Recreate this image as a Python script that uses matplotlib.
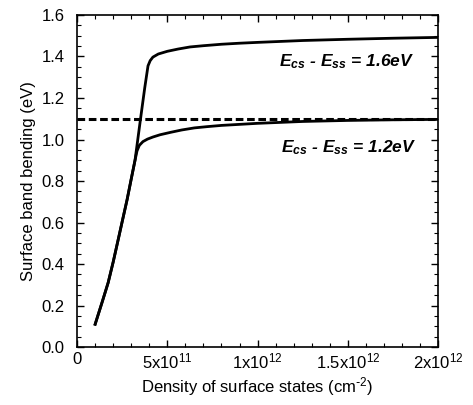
import matplotlib
matplotlib.use('Agg')
import matplotlib.pyplot as plt
from matplotlib.ticker import MultipleLocator, FixedLocator

plt.rcParams['font.family'] = ['Liberation Sans', 'DejaVu Sans']
plt.rcParams['mathtext.default'] = 'regular'

# density of surface states (cm^-2) and band bending (eV)
x_16 = [1.0e11, 1.4e11, 1.72e11, 2.0e11, 2.27e11, 2.5e11, 2.77e11, 3.0e11, 3.21e11,
        3.5e11, 3.75e11, 3.93e11, 4.05e11, 4.2e11, 4.5e11, 5.0e11, 5.6e11, 6.26e11,
        7.0e11, 8.0e11, 9.0e11, 1.0e12, 1.25e12, 1.5e12, 1.75e12, 2.0e12]
y_16 = [0.11, 0.22, 0.31, 0.41, 0.515, 0.605, 0.71, 0.81, 0.90,
        1.09, 1.25, 1.355, 1.38, 1.397, 1.412, 1.425, 1.436, 1.446,
        1.452, 1.459, 1.464, 1.468, 1.477, 1.483, 1.488, 1.492]

x_12 = [1.0e11, 1.4e11, 1.72e11, 2.0e11, 2.27e11, 2.5e11, 2.77e11, 3.0e11, 3.21e11,
        3.32e11, 3.45e11, 3.65e11, 3.9e11, 4.2e11, 4.6e11, 5.2e11, 5.8e11, 6.5e11,
        7.2e11, 8.0e11, 9.0e11, 1.0e12, 1.25e12, 1.5e12, 1.75e12, 2.0e12]
y_12 = [0.11, 0.22, 0.31, 0.41, 0.515, 0.605, 0.71, 0.81, 0.90,
        0.945, 0.972, 0.99, 1.002, 1.012, 1.023, 1.035, 1.046, 1.056,
        1.062, 1.068, 1.073, 1.078, 1.087, 1.092, 1.095, 1.097]

x_dash = [0, 2.0e12]
y_dash = [1.1, 1.1]

xticks = [0, 5e11, 1e12, 1.5e12, 2e12]
xticklabels = ['0', '5x10$^{11}$', '1x10$^{12}$', '1.5x10$^{12}$', '2x10$^{12}$']

fig = plt.figure(figsize=(4.73, 4.05), dpi=100)
ax = fig.add_axes([0.163, 0.143, 0.763, 0.820])

ax.plot(x_16, y_16, color='black', lw=2.0, solid_joinstyle='round')
ax.plot(x_12, y_12, color='black', lw=2.0, solid_joinstyle='round')
ax.plot(x_dash, y_dash, color='black', lw=2.2, ls=(0, (2.5, 1.2)))

ax.set_xlim(0, 2e12)
ax.set_ylim(0, 1.6)
ax.xaxis.set_major_locator(FixedLocator(xticks))
ax.set_xticklabels(xticklabels)
ax.xaxis.set_minor_locator(MultipleLocator(1e11))
ax.yaxis.set_major_locator(MultipleLocator(0.2))
ax.yaxis.set_minor_locator(MultipleLocator(0.05))
ax.yaxis.set_major_formatter(matplotlib.ticker.FormatStrFormatter('%.1f'))

ax.tick_params(which='both', direction='in', top=True, right=True, labelsize=12)
ax.tick_params(which='major', length=5, width=1)
ax.tick_params(which='minor', length=3, width=0.8)
ax.tick_params(axis='y', which='major', pad=9)
for s in ax.spines.values():
    s.set_linewidth(1.2)

ax.set_xlabel('Density of surface states (cm$^{\\text{-}2}$)', fontsize=12, labelpad=2)
ax.set_ylabel('Surface band bending (eV)', fontsize=12, labelpad=4)

ax.text(1.87e12, 1.373, '$E_{cs}$ - $E_{ss}$ = 1.6eV', ha='right', va='center',
        fontsize=12.5, fontweight='bold', fontstyle='italic')
ax.text(1.88e12, 0.96, '$E_{cs}$ - $E_{ss}$ = 1.2eV', ha='right', va='center',
        fontsize=12.5, fontweight='bold', fontstyle='italic')

fig.savefig('out.png', dpi=100)
